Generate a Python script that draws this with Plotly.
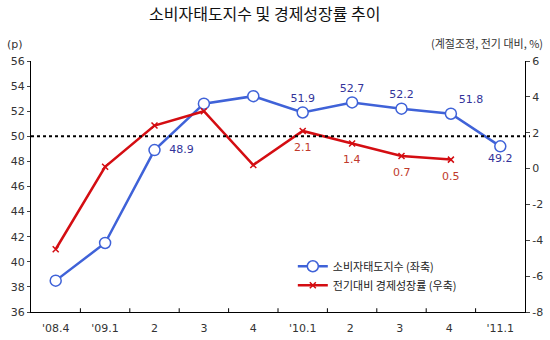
import plotly.graph_objects as go

categories = ["'08.4", "'09.1", "2", "3", "4", "'10.1", "2 ", "3 ", "4 ", "'11.1"]
csi = [38.5, 41.5, 48.9, 52.6, 53.2, 51.9, 52.7, 52.2, 51.8, 49.2]
gdp = [-4.5, 0.1, 2.4, 3.2, 0.2, 2.1, 1.4, 0.7, 0.5, None]
csi_labels = ["", "", "  48.9", "", "", "51.9", "52.7", "52.2", "51.8", "49.2"]
csi_pos = ["top center", "top center", "middle right", "top center", "top center",
           "top center", "top center", "top center", "top right", "bottom center"]
gdp_labels = ["", "", "", "", "", "2.1", "1.4", "0.7", "0.5", ""]
left_ticks = list(range(36, 57, 2))
right_ticks = list(range(-8, 7, 2))
right_ticktext = [str(v) for v in right_ticks]

BLUE = "#3f62d8"
RED = "#d40d12"
NUM_FONT = "DejaVu Sans"
KR_FONT = "Noto Sans CJK KR"

x = list(range(len(categories)))

fig = go.Figure()
fig.add_trace(go.Scatter(
    x=x, y=csi, name="소비자태도지수 (좌축)", mode="lines+markers+text",
    line=dict(color=BLUE, width=2.5),
    marker=dict(symbol="circle", size=11, color="white", line=dict(color=BLUE, width=1.5)),
    text=csi_labels, textposition=csi_pos,
    textfont=dict(color="#33339a", size=11, family=NUM_FONT),
    yaxis="y", cliponaxis=False,
))
fig.add_trace(go.Scatter(
    x=x, y=gdp, name="전기대비 경제성장률 (우축)", mode="lines+markers",
    line=dict(color=RED, width=2.5),
    marker=dict(symbol="x-thin", size=6, color=RED, line=dict(color=RED, width=1.5)),
    yaxis="y2", cliponaxis=False,
))

annotations = []
for xi, yi, lab in zip(x, gdp, gdp_labels):
    if lab:
        annotations.append(dict(text=lab, x=xi, y=yi, xref="x", yref="y2", showarrow=False,
                                yanchor="top", yshift=-8,
                                font=dict(color="#c0392b", size=11, family=NUM_FONT)))

fig.add_shape(type="line", xref="paper", yref="y", x0=0, x1=1.01, y0=50, y1=50,
              line=dict(color="black", width=2, dash="dot"))

fig.update_layout(
    width=550, height=340,
    margin=dict(l=31, r=25, t=61, b=28, autoexpand=False),
    paper_bgcolor="white", plot_bgcolor="white",
    showlegend=True,
    legend=dict(x=0.53, y=0.24, xanchor="left", yanchor="top",
                font=dict(family=KR_FONT, size=11, color="#222"),
                bgcolor="rgba(0,0,0,0)", itemwidth=30, tracegroupgap=2),
    xaxis=dict(
        range=[-0.5, 9.5], tickmode="array", tickvals=x, ticktext=categories,
        showgrid=False, zeroline=False, showline=True, linecolor="black", linewidth=1,
        ticks="", ticklabelstandoff=6, automargin=False,
        tickfont=dict(family=NUM_FONT, size=11, color="#333"),
    ),
    yaxis=dict(
        range=[36, 56], tickvals=left_ticks, showgrid=False, zeroline=False,
        showline=True, linecolor="black", linewidth=1, ticks="outside", ticklen=3,
        automargin=False, tickfont=dict(family=NUM_FONT, size=11, color="#333"),
    ),
    yaxis2=dict(
        range=[-8, 6], tickmode="array", tickvals=right_ticks, ticktext=right_ticktext,
        overlaying="y", side="right",
        showgrid=False, zeroline=False, showline=True, linecolor="black", linewidth=1,
        ticks="outside", ticklen=4, automargin=False,
        tickfont=dict(family=NUM_FONT, size=11, color="#333"),
    ),
    annotations=annotations + [
        dict(text="소비자태도지수 및 경제성장률 추이", xref="paper", yref="paper",
             x=(265 - 31) / 494, y=1, xanchor="center", yanchor="middle", showarrow=False,
             font=dict(family=KR_FONT, size=16, color="#111"), yshift=48),
        dict(text="(p)", xref="paper", yref="paper", x=-26 / 494, y=1,
             xanchor="left", yanchor="bottom", yshift=8, showarrow=False,
             font=dict(family=NUM_FONT, size=11, color="#333")),
        dict(text="(계절조정, 전기 대비, %)", xref="paper", yref="paper", x=(545 - 31) / 494, y=1,
             xanchor="right", yanchor="bottom", yshift=8, showarrow=False,
             font=dict(family=KR_FONT, size=11, color="#333")),
    ],
)
# boundary ticks on the bottom axis (inside)
for b in range(1, 10):
    fig.add_shape(type="line", xref="x", yref="paper", x0=b - 0.5, x1=b - 0.5, y0=0, y1=0.015,
                  line=dict(color="black", width=1))

fig.write_html("out.html")
